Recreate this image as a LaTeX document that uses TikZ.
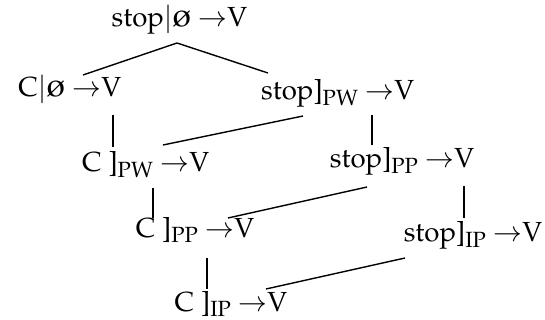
\documentclass[tikz,border=0pt]{standalone}
\usepackage[T1]{fontenc}
\usepackage{mathpazo}
\usepackage{amsmath}
\usepackage{amssymb}
\usepackage{graphicx}
\usepackage{tikz}

% one rule of the lattice: left side, bracket with its label, arrow to V
\newcommand{\rul}[2]{#1#2 $\rightarrow$V}
\newcommand{\brk}[1]{]\raisebox{-0.45ex}{\fontsize{11}{12}\selectfont #1}}
\newcommand{\nil}{$|$\scalebox{1.2}{\o}}

\begin{document}
\begin{tikzpicture}
			[x=0.5pt,y=-0.5pt,line width=0.7pt,
			 every node/.style={inner sep=0pt,anchor=base east,font=\fontsize{13.8}{16}\selectfont}]
			\useasboundingbox (0,0) rectangle (545,320);
			% the rules, top row first
			\node (topnil) at (248,27) {\rul{stop}{\nil}};
			\node (cnil)   at (122,97) {\rul{C}{\nil}};
			\node (stoppw) at (415,100) {\rul{stop}{\brk{PW}}};
			\node (cpw)    at (210,172) {\rul{C }{\brk{PW}}};
			\node (stoppp) at (475,168) {\rul{stop}{\brk{PP}}};
			\node (cpp)    at (255,237) {\rul{C }{\brk{PP}}};
			\node (stopip) at (543,242) {\rul{stop}{\brk{IP}}};
			\node (cip)    at (288,311) {\rul{C }{\brk{IP}}};
			% branches
			\draw ([shift={(-39,-22)}]cnil.base east) -- ([shift={(-71,16)}]topnil.base east)
				-- ([shift={(-147,-27)}]stoppw.base east);
			\draw ([shift={(-9,18)}]cnil.base east) -- ([shift={(-97,-25)}]cpw.base east);
			\draw ([shift={(-112,16)}]stoppw.base east) -- ([shift={(-47,-27)}]cpw.base east);
			\draw ([shift={(-43,15)}]stoppw.base east) -- ([shift={(-103,-23)}]stoppp.base east);
			\draw ([shift={(-57,16)}]cpw.base east) -- ([shift={(-102,-19)}]cpp.base east);
			\draw ([shift={(-108,19)}]stoppp.base east) -- ([shift={(-27,-19)}]cpp.base east);
			\draw ([shift={(-11,18)}]stoppp.base east) -- ([shift={(-79,-24)}]stopip.base east);
			\draw ([shift={(-48,21)}]cpp.base east) -- ([shift={(-81,-22)}]cip.base east);
			\draw ([shift={(-138,16)}]stopip.base east) -- ([shift={(-22,-22)}]cip.base east);
		\end{tikzpicture}
\end{document}
